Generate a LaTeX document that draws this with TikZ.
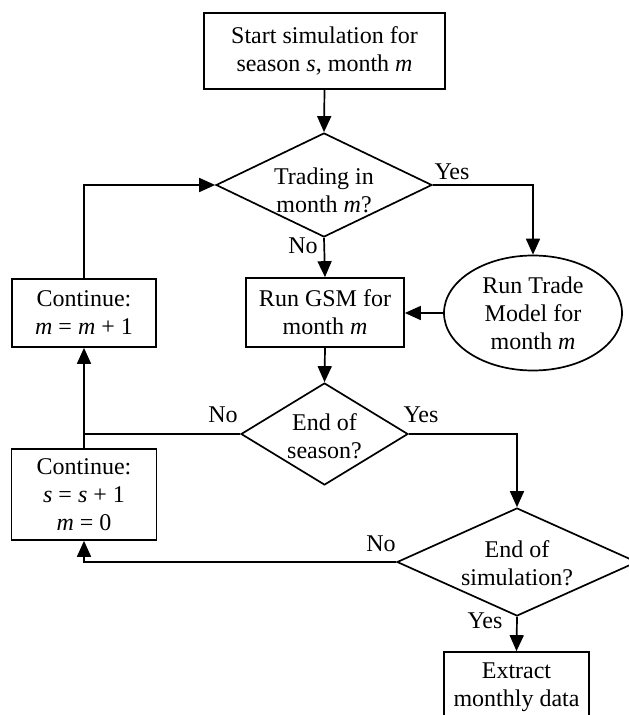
\documentclass[tikz,border=0pt]{standalone}
\usepackage{fontspec}
\setmainfont{Liberation Serif}
\usetikzlibrary{shapes.geometric,arrows.meta}
\begin{document}
\begin{tikzpicture}[x=1pt,y=-1pt,line width=1.7pt,
  every node/.style={font=\fontsize{24}{28}\selectfont},
  box/.style={draw,rectangle,inner sep=0pt,align=center},
  dia/.style={draw,diamond,inner sep=0pt},
  txt/.style={align=center,inner sep=0pt},
  arr/.style={-{Triangle[length=16pt,width=14pt]}},
  lbl/.style={inner sep=0pt}]
\path[use as bounding box] (0,0) rectangle (629,715);
\clip (0,0) rectangle (629,715);
% boxes
\node[box,minimum width=241pt,minimum height=76pt] (start) at (324.5,51) {Start simulation for\\season \textit{s}, month \textit{m}};
\node[box,minimum width=158pt,minimum height=69pt] (gsm) at (325,312.5) {Run GSM for\\month \textit{m}};
\node[box,minimum width=144pt,minimum height=68pt] (cont1) at (84,313) {Continue:\\\textit{m} = \textit{m} + 1};
\node[box,minimum width=145pt,minimum height=91pt] (cont2) at (84,494.5) {Continue:\\\textit{s} = \textit{s} + 1\\\textit{m} = 0};
\node[box,minimum width=145pt,minimum height=70pt] (extract) at (516.5,687) {Extract\\monthly data};
\node[draw,ellipse,inner sep=0pt,minimum width=178pt,minimum height=115pt,align=center] (ell) at (533,313) {Run Trade\\Model for\\month \textit{m}};
% diamonds
\node[dia,minimum width=216pt,minimum height=104pt] (d1) at (324,185) {};
\node[txt] (t1) at (324,190) {Trading in\\month \textit{m}?};
\node[dia,minimum width=167pt,minimum height=102pt] (d2) at (324.5,434) {};
\node[txt] (t2) at (324.5,436) {End of\\season?};
\node[dia,minimum width=240pt,minimum height=108pt] (d3) at (517,562) {};
\node[txt] (t3) at (517,563.5) {End of\\simulation?};
% labels
\node[lbl] (l1) at (452,172) {Yes};
\node[lbl] (l2) at (303,246) {No};
\node[lbl] (l3) at (223,415) {No};
\node[lbl] (l4) at (421,415) {Yes};
\node[lbl] (l5) at (381,544) {No};
\node[lbl] (l6) at (485,621) {Yes};
% connectors
\draw[arr] (start.south) -- (d1.north);
\draw[arr] (d1.east) -| (ell.north);
\draw[arr] (d1.south) -- (gsm.north);
\draw[arr] (ell.west) -- (gsm.east |- ell.west);
\draw[arr] (gsm.south) -- (d2.north);
\draw (d2.west) -- (cont1.south |- d2.west);
\draw[arr] (cont2.north) -- (cont1.south);
\draw[arr] (cont1.north) |- (d1.west);
\draw[arr] (d2.east) -| (d3.north);
\draw[arr] (d3.west) -| (cont2.south);
\draw[arr] (d3.south) -- (extract.north);
\end{tikzpicture}
\end{document}
